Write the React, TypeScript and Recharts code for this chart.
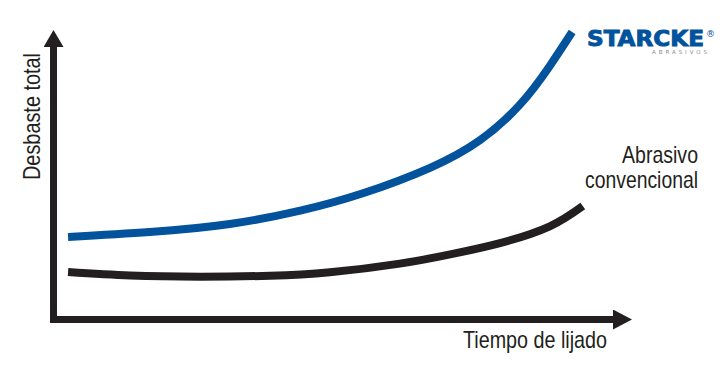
import React from 'react';
import { LineChart, Line, XAxis, YAxis, Customized } from 'recharts';

// Abstract scale: time 0..100, wear 0..100
const advancedTime = [2.6, 17.2, 31.5, 44.1, 55.3, 67.3, 76.2, 83.4, 88.7, 92.7];
const advancedWear = [28.5, 30.2, 33.0, 37.6, 43.6, 52.4, 61.9, 74.3, 87.6, 99.3];
const conventionalTime = [2.6, 13.7, 26.2, 38.7, 49.4, 61.9, 70.9, 79.8, 88.7, 94.6];
const conventionalWear = [16.4, 15.2, 14.8, 15.1, 16.3, 19.3, 22.5, 26.4, 32.2, 39.2];

const yAxisTitle = 'Desbaste total';
const xAxisTitle = 'Tiempo de lijado';
const seriesLabel = ['Abrasivo', 'convencional'];
const brandName = 'STARCKE';
const brandSub = 'ABRASIVOS';

const advancedData = advancedTime.map((t, i) => ({ t, v: advancedWear[i] }));
const conventionalData = conventionalTime.map((t, i) => ({ t, v: conventionalWear[i] }));

const BLUE = '#02529c';
const INK = '#231f20';
const FONT = '"Liberation Sans", Arial, sans-serif';

const Annotations = () => (
  <g>
    <text
      x={463}
      y={347.5}
      fontFamily={FONT}
      fontSize={24}
      fill={INK}
      textLength={144}
      lengthAdjust="spacingAndGlyphs"
    >
      {xAxisTitle}
    </text>
    <text
      x={40}
      y={180}
      transform="rotate(-90 40 180)"
      fontFamily={FONT}
      fontSize={24}
      fill={INK}
      textLength={127}
      lengthAdjust="spacingAndGlyphs"
    >
      {yAxisTitle}
    </text>
    <text
      x={622}
      y={163}
      fontFamily={FONT}
      fontSize={24}
      fill={INK}
      textLength={76}
      lengthAdjust="spacingAndGlyphs"
    >
      {seriesLabel[0]}
    </text>
    <text
      x={585}
      y={188}
      fontFamily={FONT}
      fontSize={24}
      fill={INK}
      textLength={113}
      lengthAdjust="spacingAndGlyphs"
    >
      {seriesLabel[1]}
    </text>
    <text
      x={587}
      y={46}
      fontFamily='"DejaVu Sans", sans-serif'
      fontWeight={900}
      fontSize={20.5}
      fill={BLUE}
      stroke={BLUE}
      strokeWidth={0.9}
      textLength={117}
      lengthAdjust="spacingAndGlyphs"
    >
      {brandName}
    </text>
    <text x={706} y={37} fontFamily='"DejaVu Sans", sans-serif' fontSize={9} fill={BLUE}>
      ®
    </text>
    <text
      x={652}
      y={54}
      fontFamily='"DejaVu Sans", sans-serif'
      fontSize={5.5}
      fill="#8a8a8a"
      textLength={55}
      lengthAdjust="spacing"
    >
      {brandSub}
    </text>
  </g>
);

export default function App() {
  return (
    <div style={{ position: 'absolute', left: 0, top: 0, width: 722, height: 374, background: '#fff' }}>
      <svg width={0} height={0} style={{ position: 'absolute' }}>
        <defs>
          <marker
            id="arrowX"
            markerUnits="userSpaceOnUse"
            markerWidth={19}
            markerHeight={20}
            viewBox="0 0 19 20"
            refX={0}
            refY={10}
            orient="auto"
          >
            <path d="M0,0 L19,10 L0,20 Z" fill={INK} />
          </marker>
          <marker
            id="arrowY"
            markerUnits="userSpaceOnUse"
            markerWidth={17}
            markerHeight={20}
            viewBox="0 0 17 20"
            refX={17}
            refY={10}
            orient="auto-start-reverse"
          >
            <path d="M0,0 L17,10 L0,20 Z" fill={INK} />
          </marker>
        </defs>
      </svg>
      <LineChart
        width={722}
        height={374}
        margin={{ top: 30, right: 109, bottom: 0, left: 0 }}
      >
        <XAxis
          type="number"
          dataKey="t"
          domain={[0, 100]}
          tick={false}
          tickLine={false}
          height={54.5}
          axisLine={{ stroke: INK, strokeWidth: 7, strokeLinecap: 'square', markerEnd: 'url(#arrowX)' }}
        />
        <YAxis
          type="number"
          dataKey="v"
          domain={[0, 100]}
          tick={false}
          tickLine={false}
          width={53.5}
          axisLine={{ stroke: INK, strokeWidth: 7, strokeDasharray: '0 17 2000', markerStart: 'url(#arrowY)' }}
        />
        <Line
          data={conventionalData}
          dataKey="v"
          type="natural"
          stroke={INK}
          strokeWidth={8}
          dot={false}
          isAnimationActive={false}
        />
        <Line
          data={advancedData}
          dataKey="v"
          type="natural"
          stroke={BLUE}
          strokeWidth={8}
          dot={false}
          isAnimationActive={false}
        />
        <Customized component={Annotations} />
      </LineChart>
    </div>
  );
}
